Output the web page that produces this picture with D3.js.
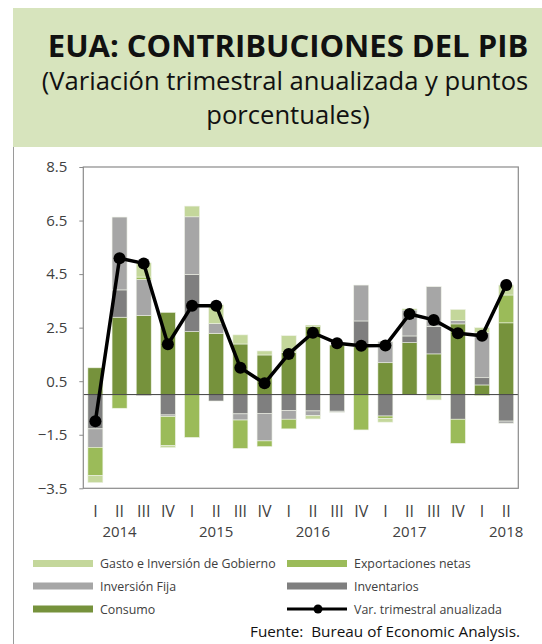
<!DOCTYPE html>
<html>
<head>
<meta charset="utf-8">
<script src="https://cdn.jsdelivr.net/npm/d3@7"></script>
<style>
  html, body { margin: 0; padding: 0; background: #fff; }
  svg { display: block; }
  text { font-family: "Open Sans", "Noto Sans", sans-serif; }
</style>
</head>
<body>
<svg id="chart" width="542" height="644"></svg>
<script>
// ---- Data ----
const quarters = ["I","II","III","IV","I","II","III","IV","I","II","III","IV","I","II","III","IV","I","II"];
const years = ["2014","2015","2016","2017","2018"];
const yearAt = [1, 5, 9, 13, 17]; // index of quarter under which year label sits
const consumo       = [1.00, 2.89, 2.95, 3.07, 2.35, 2.29, 1.89, 1.48, 1.58, 2.54, 1.85, 1.80, 1.19, 1.94, 1.52, 2.64, 0.36, 2.68];
const inventarios   = [-1.28, 1.02, -0.04, -0.76, 2.14, -0.24, -0.72, -0.70, -0.60, -0.61, -0.62, 0.95, -0.80, 0.25, 1.02, -0.92, 0.27, -0.99];
const inversionFija = [-0.69, 2.72, 1.35, -0.06, 2.15, 0.36, -0.23, -1.03, -0.32, -0.18, -0.04, 1.34, 0.79, 0.97, 1.49, 0.12, 1.68, -0.08];
const exportaciones = [-1.06, -0.51, 0.09, -1.09, -1.60, 0.00, -1.06, -0.21, -0.36, 0.05, 0.00, -1.32, -0.10, 0.04, 0.00, -0.90, -0.04, 1.04];
const gobierno      = [-0.26, 0.00, 0.53, -0.07, 0.40, 0.70, 0.34, 0.15, 0.62, -0.12, 0.00, 0.00, -0.13, 0.00, -0.20, 0.42, 0.19, 0.37];
const varTrimestral = [-1.00, 5.09, 4.90, 1.88, 3.32, 3.32, 1.00, 0.42, 1.52, 2.31, 1.92, 1.82, 1.83, 3.01, 2.79, 2.29, 2.20, 4.09];
const yTicks = [-3.5, -1.5, 0.5, 2.5, 4.5, 6.5, 8.5];

const seriesKeys = ["consumo","inventarios","fija","exportaciones","gobierno"];
const seriesColors = {
  consumo: "#76923c", inventarios: "#7f7f7f", fija: "#a6a6a6",
  exportaciones: "#9bbb59", gobierno: "#c4d79b"
};
const rows = quarters.map((q, i) => ({
  i, consumo: consumo[i], inventarios: inventarios[i], fija: inversionFija[i],
  exportaciones: exportaciones[i], gobierno: gobierno[i]
}));

// ---- Layout ----
const svg = d3.select("#chart");
const plot = { left: 83.3, right: 518.3, top: 167, bottom: 488.3 };

// Header box
svg.append("rect").attr("x", 13).attr("y", 8).attr("width", 529).attr("height", 139)
  .attr("fill", "#d7e4bd");
svg.append("line").attr("x1", 13.5).attr("x2", 13.5).attr("y1", 147).attr("y2", 644)
  .attr("stroke", "#9a9a9a").attr("stroke-width", 1);

svg.append("text").attr("x", 288).attr("y", 57).attr("text-anchor", "middle")
  .attr("font-family", "Lato, 'Open Sans', sans-serif")
  .attr("font-size", 31).attr("font-weight", 700).attr("fill", "#111")
  .text("EUA: CONTRIBUCIONES DEL PIB");
svg.append("text").attr("x", 285).attr("y", 90).attr("text-anchor", "middle")
  .attr("font-family", "Lato, 'Open Sans', sans-serif")
  .attr("font-size", 25.6).attr("fill", "#111")
  .text("(Variación trimestral anualizada y puntos");
svg.append("text").attr("x", 288).attr("y", 124).attr("text-anchor", "middle")
  .attr("font-family", "Lato, 'Open Sans', sans-serif")
  .attr("font-size", 25.6).attr("fill", "#111")
  .text("porcentuales)");

// Scales
const x = d3.scaleBand().domain(d3.range(quarters.length))
  .range([plot.left, plot.right]).paddingInner(0.38).paddingOuter(0.19);
const y = d3.scaleLinear().domain([-3.5, 8.5]).range([plot.bottom, plot.top]);

// Stacked bars
const stack = d3.stack().keys(seriesKeys).offset(d3.stackOffsetDiverging);
const stacked = stack(rows);
const gBars = svg.append("g");
stacked.forEach(layer => {
  gBars.append("g").attr("fill", seriesColors[layer.key])
    .selectAll("rect").data(layer).join("rect")
    .attr("x", d => x(d.data.i))
    .attr("width", x.bandwidth())
    .attr("y", d => y(Math.max(d[0], d[1])))
    .attr("height", d => Math.abs(y(d[0]) - y(d[1])))
    .attr("stroke", "#eef2e6").attr("stroke-width", 0.6);
});

// Zero line
svg.append("line").attr("x1", plot.left).attr("x2", plot.right)
  .attr("y1", y(0)).attr("y2", y(0)).attr("stroke", "#404040").attr("stroke-width", 1);

// Frame
svg.append("rect").attr("x", plot.left).attr("y", plot.top)
  .attr("width", plot.right - plot.left).attr("height", plot.bottom - plot.top)
  .attr("fill", "none").attr("stroke", "#8a8a8a").attr("stroke-width", 1.2);

// Y axis
const yAxis = d3.axisLeft(y).tickValues(yTicks).tickFormat(d3.format(".1f"))
  .tickSize(4).tickPadding(12);
const gy = svg.append("g").attr("transform", `translate(${plot.left},0)`).call(yAxis);
gy.select(".domain").remove();
gy.selectAll(".tick line").attr("stroke", "#8a8a8a");
gy.selectAll(".tick text").attr("font-size", 15).attr("fill", "#404040")
  .attr("font-family", "'Open Sans', sans-serif");

// X labels
svg.append("g").selectAll("text").data(quarters).join("text")
  .attr("x", (d, i) => x(i) + x.bandwidth() / 2).attr("y", 517)
  .attr("text-anchor", "middle").attr("font-size", 16).attr("fill", "#404040")
  .text(d => d);
svg.append("g").selectAll("text").data(years).join("text")
  .attr("x", (d, i) => x(yearAt[i]) + x.bandwidth() / 2).attr("y", 537)
  .attr("text-anchor", "middle").attr("font-size", 15).attr("fill", "#404040")
  .text(d => d);

// Line
const line = d3.line().x((d, i) => x(i) + x.bandwidth() / 2).y(d => y(d));
svg.append("path").datum(varTrimestral).attr("d", line)
  .attr("fill", "none").attr("stroke", "#000").attr("stroke-width", 3.5)
  .attr("stroke-linejoin", "round");
svg.append("g").selectAll("circle").data(varTrimestral).join("circle")
  .attr("cx", (d, i) => x(i) + x.bandwidth() / 2).attr("cy", d => y(d))
  .attr("r", 6).attr("fill", "#000");

// Legend
const legendItems = [
  { label: "Gasto e Inversión de Gobierno", key: "gobierno", col: 0, row: 0 },
  { label: "Exportaciones netas", key: "exportaciones", col: 1, row: 0 },
  { label: "Inversión Fija", key: "fija", col: 0, row: 1 },
  { label: "Inventarios", key: "inventarios", col: 1, row: 1 },
  { label: "Consumo", key: "consumo", col: 0, row: 2 },
  { label: "Var. trimestral anualizada", key: "line", col: 1, row: 2 }
];
const colX = [33, 287], rowY = [563.5, 586, 609];
const gl = svg.append("g");
legendItems.forEach(it => {
  const sx = colX[it.col], cy = rowY[it.row];
  if (it.key === "line") {
    gl.append("line").attr("x1", sx).attr("x2", sx + 60).attr("y1", cy).attr("y2", cy)
      .attr("stroke", "#000").attr("stroke-width", 3);
    gl.append("circle").attr("cx", sx + 31).attr("cy", cy).attr("r", 4.5).attr("fill", "#000");
  } else {
    gl.append("rect").attr("x", sx).attr("y", cy - 3.5).attr("width", 60).attr("height", 7)
      .attr("fill", seriesColors[it.key]);
  }
  gl.append("text").attr("x", sx + 67).attr("y", cy + 4.5)
    .attr("font-size", 12.4).attr("fill", "#404040").text(it.label);
});

svg.append("text").attr("x", 520).attr("y", 637).attr("text-anchor", "end")
  .attr("font-size", 15.3).attr("fill", "#111").style("white-space", "pre")
  .text("Fuente:  Bureau of Economic Analysis.");
</script>
</body>
</html>
